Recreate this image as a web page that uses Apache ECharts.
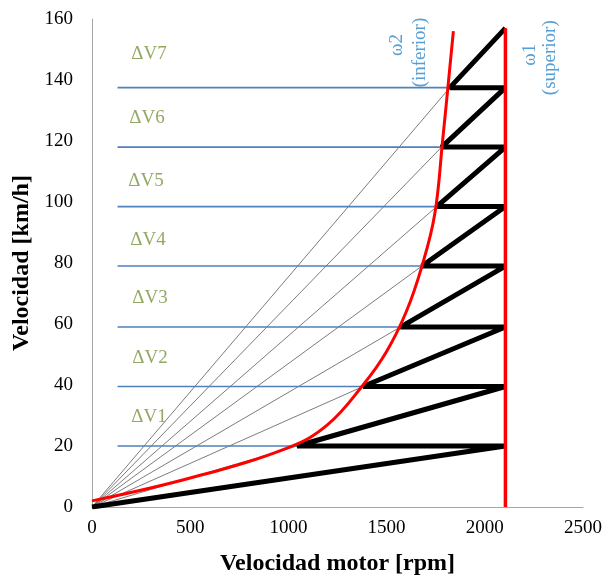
<!DOCTYPE html>
<html>
<head>
<meta charset="utf-8">
<script src="https://cdn.jsdelivr.net/npm/echarts@6/dist/echarts.min.js"></script>
<style>html,body{margin:0;padding:0;background:#fff}#c{width:605px;height:581px}</style>
</head>
<body>
<div id="c"></div>
<script>
// ---- data ----
var xTicks = [0, 500, 1000, 1500, 2000, 2500];
var yTicks = [0, 20, 40, 60, 80, 100, 120, 140, 160];
var rpmMax = 2105;                       // ω1 (superior)
var shiftSpeed = [20, 39.5, 59, 79, 98.5, 118, 137.5];   // speeds of each shift
var shiftRpm = [1044, 1380, 1570, 1680, 1755, 1780, 1822]; // rpm after shift (ω2)
var topSpeed = 157;
var blueStartRpm = 130;
// red ω2 curve
var curveRpm =   [0, 500, 1000, 1200, 1380, 1500, 1600, 1680, 1745, 1785, 1840];
var curveSpeed = [2, 9.5, 19.5, 27, 40, 51, 64, 79, 96, 120, 156];
var dvNames = ['ΔV1', 'ΔV2', 'ΔV3', 'ΔV4', 'ΔV5', 'ΔV6', 'ΔV7'];
var dvX = [290, 295, 295, 285, 275, 280, 290];
var dvY = [29.6, 48.8, 68.6, 87.5, 107, 127.5, 148.6];
var omegaNames = ['ω2', '(inferior)', 'ω1', '(superior)'];
var omegaX = [1553, 1670, 2230, 2332];
var omegaY = [151.5, 149, 148.3, 147.3];

// ---- build ----
var serif = '"Liberation Serif", "Times New Roman", serif';
var series = [];
// thin gray lines from origin to each shift point
shiftRpm.forEach(function (r, i) {
  series.push({type: 'line', data: [[0, 0], [r, shiftSpeed[i]]], symbol: 'none', silent: true,
    lineStyle: {color: '#5a5a5a', width: 0.8}, z: 1});
});
// blue horizontal lines
shiftSpeed.forEach(function (v) {
  series.push({type: 'line', data: [[blueStartRpm, v], [rpmMax, v]], symbol: 'none', silent: true,
    lineStyle: {color: '#4F81BD', width: 1.6}, z: 2});
});
// black zig-zag
var zig = [[0, 0]];
shiftSpeed.forEach(function (v, i) {
  zig.push([rpmMax, v]);
  zig.push([shiftRpm[i], v]);
});
zig.push([rpmMax, topSpeed]);
series.push({type: 'line', data: zig, symbol: 'none', silent: true,
  lineStyle: {color: '#000', width: 5, join: 'bevel'}, z: 3});
// red ω2 curve
series.push({type: 'line', data: curveRpm.map(function (r, i) { return [r, curveSpeed[i]]; }),
  symbol: 'none', smooth: 0.4, silent: true, lineStyle: {color: '#FF0000', width: 3}, z: 4});
// red ω1 vertical
series.push({type: 'line', data: [[rpmMax, 0], [rpmMax, topSpeed]], symbol: 'none', silent: true,
  lineStyle: {color: '#FF0000', width: 3.5}, z: 5});
// ΔV labels
series.push({type: 'scatter', symbolSize: 0, silent: true, z: 6,
  data: dvNames.map(function (n, i) { return {name: n, value: [dvX[i], dvY[i]]}; }),
  label: {show: true, position: 'inside', formatter: '{b}', color: '#77933C', fontSize: 19, fontFamily: serif}});
// ω labels
series.push({type: 'scatter', symbolSize: 0, silent: true, z: 6,
  data: omegaNames.map(function (n, i) { return {name: n, value: [omegaX[i], omegaY[i]]}; }),
  label: {show: true, position: 'inside', rotate: 90, formatter: '{b}', color: '#2E86C8', fontSize: 19, fontFamily: serif}});

var chart = echarts.init(document.getElementById('c'));
chart.setOption({
  animation: false,
  backgroundColor: '#fff',
  grid: {left: 92, right: 20, top: 19, bottom: 66, containLabel: false},
  xAxis: {type: 'value', min: xTicks[0], max: xTicks[xTicks.length - 1], interval: 500,
    axisLine: {lineStyle: {color: '#A6A6A6', width: 1}}, axisTick: {show: false}, splitLine: {show: false},
    axisLabel: {color: '#000', fontSize: 19, fontFamily: serif, margin: 12, formatter: function (v) { return String(v); }},
    name: 'Velocidad motor [rpm]', nameLocation: 'middle', nameGap: 45,
    nameTextStyle: {color: '#000', fontSize: 24, fontWeight: 'bold', fontFamily: serif}},
  yAxis: {type: 'value', min: yTicks[0], max: yTicks[yTicks.length - 1], interval: 20,
    axisLine: {show: true, lineStyle: {color: '#A6A6A6', width: 1}}, axisTick: {show: false}, splitLine: {show: false},
    axisLabel: {color: '#000', fontSize: 19, fontFamily: serif, margin: 19, formatter: function (v) { return String(v); }},
    name: 'Velocidad [km/h]', nameLocation: 'middle', nameGap: 58,
    nameTextStyle: {color: '#000', fontSize: 24, fontWeight: 'bold', fontFamily: serif}},
  series: series
});
</script>
</body>
</html>
